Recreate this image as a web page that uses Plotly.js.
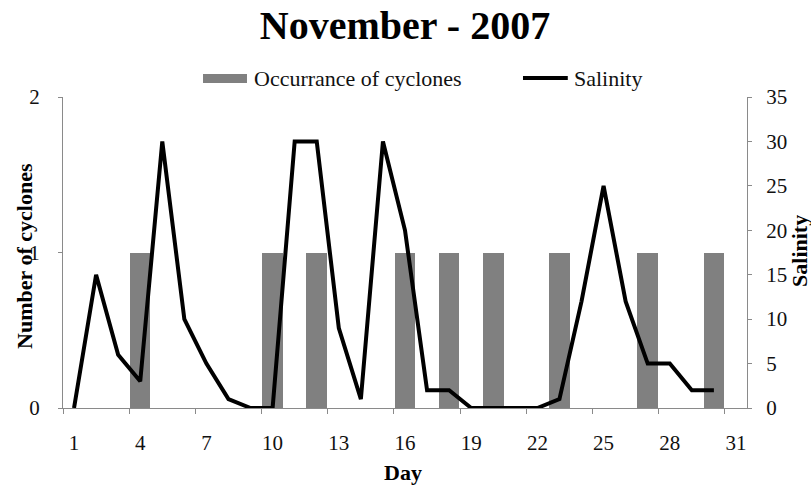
<!DOCTYPE html>
<html>
<head>
<meta charset="utf-8">
<script src="https://cdn.plot.ly/plotly-3.0.1.min.js"></script>
<style>html,body{margin:0;padding:0;background:#fff;}#chart{width:811px;height:489px;}</style>
</head>
<body>
<div id="chart"></div>
<script>
// Data
var days = [1,2,3,4,5,6,7,8,9,10,11,12,13,14,15,16,17,18,19,20,21,22,23,24,25,26,27,28,29,30];
var salinity = [0,15,6,3,30,10,5,1,0,0,30,30,9,1,30,20,2,2,0,0,0,0,1,12,25,12,5,5,2,2];
var cycloneDays = [4,10,12,16,18,20,23,27,30];
var cycloneCount = [1,1,1,1,1,1,1,1,1];
var xTickVals = [1,4,7,10,13,16,19,22,25,28,31];
var xTickText = ['1','4','7','10','13','16','19','22','25','28','31'];
var y1TickVals = [0,1,2];
var y2TickVals = [0,5,10,15,20,25,30,35];

var serif = '"Liberation Serif", "Times New Roman", serif';
var axisGray = '#8a8a8a';
var barGray = '#808080';

var traces = [
  {
    type: 'bar', name: 'Occurrance of cyclones',
    x: cycloneDays, y: cycloneCount, width: 0.93,
    marker: {color: barGray, line: {width: 0}},
    yaxis: 'y', showlegend: false, hoverinfo: 'skip'
  },
  {
    type: 'scatter', mode: 'lines', name: 'Salinity',
    x: days, y: salinity, yaxis: 'y2',
    line: {color: '#000', width: 4},
    showlegend: false, hoverinfo: 'skip'
  }
];

var tickFont = {family: serif, size: 21, color: '#111'};

var layout = {
  width: 811, height: 489,
  margin: {l: 63, r: 64, t: 97, b: 81},
  paper_bgcolor: '#fff', plot_bgcolor: '#fff',
  font: {family: serif, color: '#111', size: 20},
  title: {
    text: '<b>November - 2007</b>',
    font: {family: serif, size: 40, color: '#000'},
    x: 0.5, xref: 'paper', y: 1 - 25/489, yref: 'container', yanchor: 'middle'
  },
  bargap: 0,
  xaxis: {
    range: [0.5, 31.5],
    tickmode: 'array', tickvals: xTickVals, ticktext: xTickText,
    ticks: '', showgrid: false, zeroline: false,
    showline: true, linecolor: axisGray, linewidth: 1,
    tickfont: tickFont,
    ticklabelstandoff: 16,
    minor: {tick0: 0.5, dtick: 3, ticks: 'outside', ticklen: 5, tickcolor: axisGray, showgrid: false}
  },
  yaxis: {
    range: [0, 2], tickmode: 'array', tickvals: y1TickVals,
    ticks: 'outside', ticklen: 4, tickcolor: axisGray,
    showgrid: false, zeroline: false,
    showline: true, linecolor: axisGray, linewidth: 1,
    tickfont: tickFont,
    ticklabelstandoff: 14
  },
  yaxis2: {
    range: [0, 35], tickmode: 'array', tickvals: y2TickVals,
    overlaying: 'y', side: 'right',
    ticks: 'outside', ticklen: 4, tickcolor: axisGray,
    showgrid: false, zeroline: false,
    showline: true, linecolor: axisGray, linewidth: 1,
    tickfont: tickFont,
    ticklabelstandoff: 10
  },
  shapes: [
    {type: 'rect', xref: 'paper', yref: 'paper', x0: 0.2047, x1: 0.269, y0: 1.045, y1: 1.074,
     fillcolor: barGray, line: {width: 0}},
    {type: 'line', xref: 'paper', yref: 'paper', x0: 0.6725, x1: 0.738, y0: 1.061, y1: 1.061,
     line: {color: '#000', width: 4}}
  ],
  annotations: [
    {text: 'Occurrance of cyclones', xref: 'paper', yref: 'paper', x: 0.2763, y: 1.061,
     xanchor: 'left', yanchor: 'middle', showarrow: false, font: {family: serif, size: 22, color: '#111'}},
    {text: 'Salinity', xref: 'paper', yref: 'paper', x: 0.744, y: 1.061,
     xanchor: 'left', yanchor: 'middle', showarrow: false, font: {family: serif, size: 22, color: '#111'}},
    {text: '<b>Number of cyclones</b>', xref: 'paper', yref: 'paper', x: -0.0556, y: 0.489,
     xanchor: 'center', yanchor: 'middle', textangle: -90, showarrow: false,
     font: {family: serif, size: 22, color: '#000'}},
    {text: '<b>Salinity</b>', xref: 'paper', yref: 'paper', x: 1.0775, y: 0.505,
     xanchor: 'center', yanchor: 'middle', textangle: -90, showarrow: false,
     font: {family: serif, size: 22, color: '#000'}},
    {text: '<b>Day</b>', xref: 'paper', yref: 'paper', x: 0.497, y: -0.206,
     xanchor: 'center', yanchor: 'middle', showarrow: false,
     font: {family: serif, size: 22, color: '#000'}}
  ]
};

Plotly.newPlot('chart', traces, layout, {staticPlot: true, displayModeBar: false});
</script>
</body>
</html>
